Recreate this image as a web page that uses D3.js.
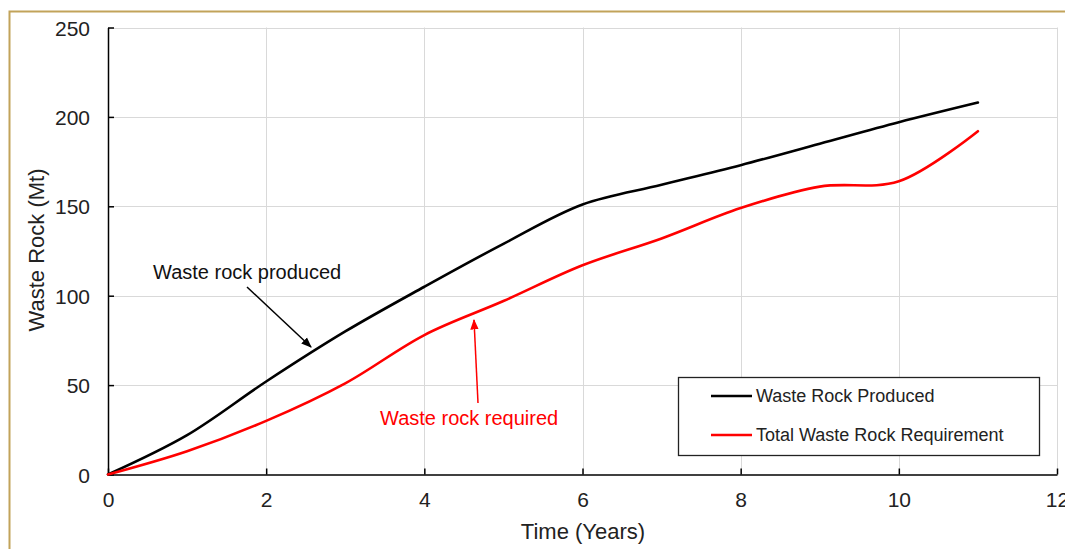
<!DOCTYPE html>
<html><head><meta charset="utf-8">
<script src="https://cdn.jsdelivr.net/npm/d3@7"></script>
<style>body{margin:0;background:#fff;}svg{display:block;font-family:"Liberation Sans",Arial,sans-serif;}</style>
</head><body>
<svg id="c" width="1065" height="549"></svg>
<script>
const years = [0,1,2,3,4,5,6,7,8,9,10,11];
const produced = [0,22,52,80,105,129,151,162,173,185,197,208];
const required = [0,13,30,51,78,97,117,132,149,161,164,192];
const xTicks = [0,2,4,6,8,10,12];
const yTicks = [0,50,100,150,200,250];
const seriesNames = ["Waste Rock Produced","Total Waste Rock Requirement"];
const seriesColors = ["#000000","#ff0000"];

const svg = d3.select("#c");
const x = d3.scaleLinear().domain([0,12]).range([108,1057]);
const y = d3.scaleLinear().domain([0,250]).range([474.5,27.5]);

// outer gold border
svg.append("path").attr("d","M9.5,549 L9.5,11.5 L1065,11.5").attr("fill","none").attr("stroke","#c2a35a").attr("stroke-width",2);

// grid
const g = svg.append("g");
g.selectAll(".gx").data(xTicks.slice(1)).enter().append("line")
 .attr("x1",d=>Math.round(x(d))+0.5).attr("x2",d=>Math.round(x(d))+0.5)
 .attr("y1",y(0)).attr("y2",y(250)).attr("stroke","#d9d9d9").attr("stroke-width",1);
g.selectAll(".gy").data(yTicks.slice(1)).enter().append("line")
 .attr("y1",d=>Math.round(y(d))+0.5).attr("y2",d=>Math.round(y(d))+0.5)
 .attr("x1",x(0)).attr("x2",x(12)).attr("stroke","#d9d9d9").attr("stroke-width",1);

// axes
const xa = svg.append("g").attr("transform",`translate(0,${y(0)})`)
 .call(d3.axisBottom(x).tickValues(xTicks).tickSizeInner(-6).tickSizeOuter(0).tickPadding(18));
const ya = svg.append("g").attr("transform",`translate(${x(0)},0)`)
 .call(d3.axisLeft(y).tickValues(yTicks).tickSizeInner(-6).tickSizeOuter(0).tickPadding(18));
[xa,ya].forEach(a=>{
 a.select(".domain").attr("stroke","#000").attr("stroke-width",1.5);
 a.selectAll(".tick line").attr("stroke","#000").attr("stroke-width",1.5);
 a.selectAll("text").attr("font-family","Liberation Sans, Arial, sans-serif").attr("font-size",21).attr("fill","#222");
});
xa.selectAll("text").attr("dy","0.71em");
ya.selectAll("text").attr("dy","0.36em");

// titles
svg.append("text").attr("x",583).attr("y",539).attr("text-anchor","middle").attr("font-size",22).attr("fill","#222").text("Time (Years)");
svg.append("text").attr("transform","translate(44,250) rotate(-90)").attr("text-anchor","middle").attr("font-size",22).attr("fill","#222").text("Waste Rock (Mt)");

// lines
const line = d3.line().x((d,i)=>x(years[i])).y(d=>y(d)).curve(d3.curveCatmullRom.alpha(0.5));
[produced,required].forEach((s,i)=>{
 svg.append("path").attr("d",line(s)).attr("fill","none").attr("stroke",seriesColors[i]).attr("stroke-width",2.6).attr("stroke-linecap","round");
});

// arrow markers
const defs = svg.append("defs");
seriesColors.forEach((c,i)=>{
 defs.append("marker").attr("id","ar"+i).attr("viewBox","0 0 10 10").attr("refX",9).attr("refY",5)
  .attr("markerWidth",7).attr("markerHeight",7).attr("orient","auto").attr("markerUnits","strokeWidth")
  .append("path").attr("d","M0,1 L10,5 L0,9 Z").attr("fill",c);
});

// annotations
svg.append("text").attr("x",153).attr("y",279).attr("font-size",20).attr("fill","#111").text("Waste rock produced");
svg.append("line").attr("x1",247).attr("y1",287).attr("x2",311).attr("y2",347).attr("stroke","#000").attr("stroke-width",1.5).attr("marker-end","url(#ar0)");
svg.append("text").attr("x",380).attr("y",425).attr("font-size",20).attr("fill","#ff0000").text("Waste rock required");
svg.append("line").attr("x1",478).attr("y1",403).attr("x2",474).attr("y2",320).attr("stroke","#ff0000").attr("stroke-width",1.5).attr("marker-end","url(#ar1)");

// legend
svg.append("rect").attr("x",678.5).attr("y",377.5).attr("width",361).attr("height",78).attr("fill","#fff").attr("stroke","#222").attr("stroke-width",1.3);
seriesNames.forEach((n,i)=>{
 const ly = 396 + i*39;
 svg.append("line").attr("x1",711).attr("x2",752).attr("y1",ly).attr("y2",ly).attr("stroke",seriesColors[i]).attr("stroke-width",2.6);
 svg.append("text").attr("x",756).attr("y",ly+6).attr("font-size",18).attr("fill","#222").text(n);
});
</script>
</body></html>
